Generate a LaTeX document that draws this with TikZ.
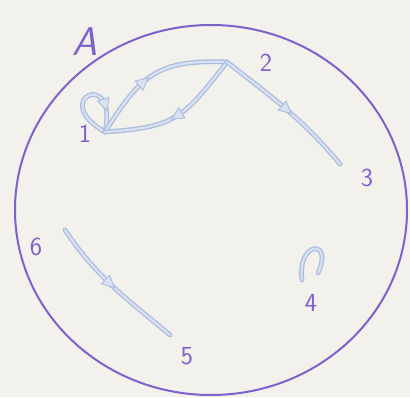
\documentclass[tikz,border=0pt]{standalone}
\usepackage{tikz}
\usetikzlibrary{arrows.meta,decorations.markings}
\definecolor{paper}{RGB}{243,241,236}
\definecolor{ink}{RGB}{124,98,204}
\definecolor{wireline}{RGB}{172,188,222}
\definecolor{wirefill}{RGB}{216,226,241}

\begin{document}
\begin{tikzpicture}[
  x=1pt, y=1pt,
  lbl/.style={text=ink, font=\fontsize{26}{26}\selectfont\sffamily, inner sep=0pt},
  rim/.style={draw=ink, line width=2pt},
  wire/.style={draw=wirefill, line width=2.2pt, line cap=round,
    preaction={draw=wireline, line width=4.8pt, line cap=round}},
  tip/.style={postaction={decorate, decoration={markings,
    mark=at position #1 with {\path[fill=wirefill, draw=wireline, line width=.9pt]
      (6,0) -- (-6,6) -- (-6,-6) -- cycle;}}}},
  tip/.default=0.5
]
\fill[paper] (0,0) rectangle (410,397);
\useasboundingbox (0,0) rectangle (410,397);

% the set A
\draw[rim] (211,187) ellipse [x radius=196, y radius=185];
\node[lbl, font=\fontsize{40}{40}\selectfont\sffamily\slshape] (lA) at (85,355) {A};

% vertices, numbered as in the sketch
\coordinate (v1) at (105,265);
\coordinate (v2) at (227,335);
\coordinate (v3) at (340,233);
\coordinate (v4l) at (302,117);
\coordinate (v4r) at (318,124);
\coordinate (v5) at (170,62);
\coordinate (v6) at (65,167);

\node[lbl] (l1) at (85,263) {1};
\node[lbl] (l2) at (266,334) {2};
\node[lbl] (l3) at (367,219) {3};
\node[lbl] (l4) at (311,94) {4};
\node[lbl] (l5) at (187,41) {5};
\node[lbl] (l6) at (36,150) {6};

% transitions
\draw[wire, tip=0.72] (v1) to[out=150, in=78, min distance=66pt] (v1);
\draw[wire, tip=0.42] (v1) to[out=58, in=178, looseness=1.25] (v2);
\draw[wire, tip=0.5] (v2) to[out=232, in=4, looseness=1.3] (v1);
\draw[wire, tip] (v2) to[out=-38, in=130] (v3);
\draw[wire] (v4l) .. controls +(-5,40) and +(16,34) .. (v4r);
\draw[wire, tip=0.47] (v6) to[out=-56, in=140] (v5);
\end{tikzpicture}
\end{document}
